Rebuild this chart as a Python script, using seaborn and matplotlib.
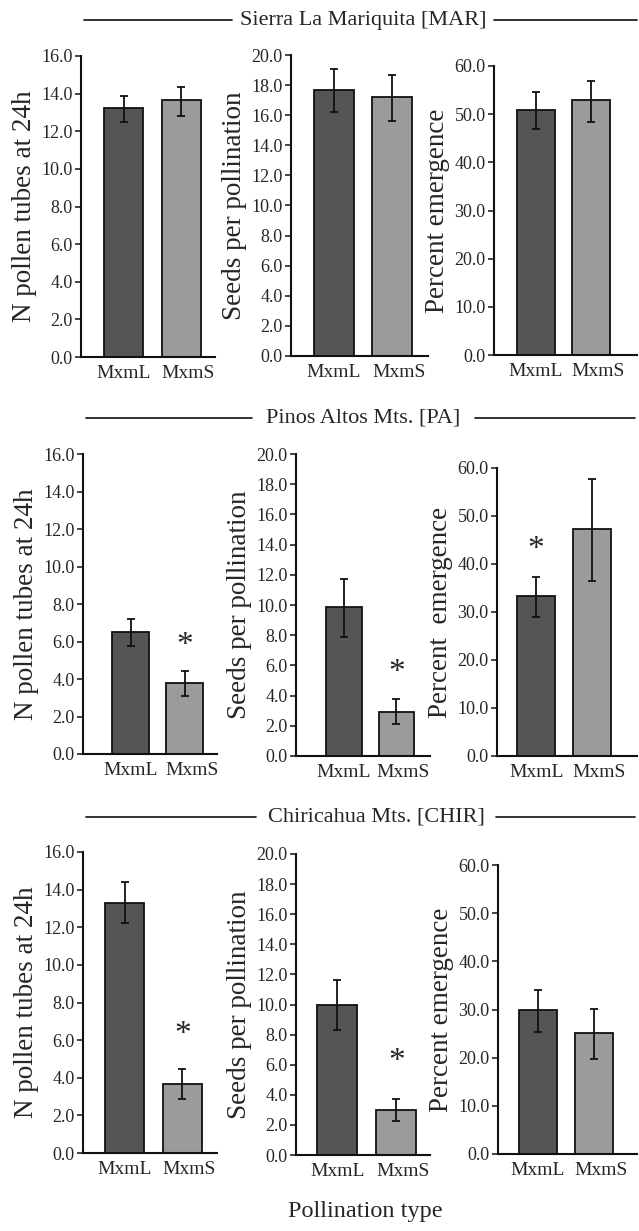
import matplotlib
matplotlib.use("Agg")
import matplotlib.pyplot as plt
from matplotlib.lines import Line2D
from matplotlib.transforms import ScaledTranslation
import numpy as np
import pandas as pd
import seaborn as sns

# categories
pollination = ['MxmL', 'MxmS']
sites = ['Sierra La Mariquita [MAR]', 'Pinos Altos Mts. [PA]', 'Chiricahua Mts. [CHIR]']
ylabels = [['N pollen tubes at 24h', 'Seeds per pollination', 'Percent emergence'],
           ['N pollen tubes at 24h', 'Seeds per pollination', 'Percent  emergence'],
           ['N pollen tubes at 24h', 'Seeds per pollination', 'Percent emergence']]

# rows = sites (MAR, PA, CHIR), values = [MxmL, MxmS]
tubes_mean = [[13.22, 13.65], [6.53, 3.8], [13.3, 3.67]]
tubes_low = [[12.5, 12.82], [5.78, 3.1], [12.2, 2.85]]
tubes_high = [[13.87, 14.37], [7.18, 4.44], [14.38, 4.45]]

seeds_mean = [[17.66, 17.23], [9.9, 2.94], [10.0, 3.0]]
seeds_low = [[16.22, 15.6], [7.9, 2.1], [8.3, 2.24]]
seeds_high = [[19.04, 18.68], [11.74, 3.76], [11.6, 3.75]]

emerg_mean = [[50.9, 52.9], [33.3, 47.2], [29.8, 25.1]]
emerg_low = [[46.9, 48.3], [28.9, 36.4], [25.4, 19.8]]
emerg_high = [[54.5, 56.9], [37.2, 57.8], [34.1, 30.1]]

ymax = [16, 20, 60]
ystep = [2, 2, 10]

# significance stars: (site, measure, bar, y)
stars = [(1, 0, 1, 5.8), (1, 1, 1, 5.5), (1, 2, 0, 43.0),
         (2, 0, 1, 6.3), (2, 1, 1, 6.2)]

W, H = 639, 1231
# axes boxes in pixels: left, top, right, bottom ; and x limits
boxes = [[(81, 56, 215, 357), (291, 55, 428, 356), (494, 66, 637, 355)],
         [(83, 454, 217, 754), (296, 454, 430, 756), (497, 468, 637, 756)],
         [(83, 852, 217, 1153), (296, 854, 430, 1155), (498, 865, 637, 1154)]]
xlims = [[(-0.74, 1.59), (-0.74, 1.62), (-0.75, 1.82)],
         [(-0.88, 1.6), (-0.91, 1.64), (-0.70, 1.80)],
         [(-0.72, 1.6), (-0.70, 1.57), (-0.72, 1.78)]]
# title y, left line, right line
titles = [(20, (84, 232), (494, 637)),
          (418, (86, 252), (475, 635)),
          (817, (86, 256), (496, 635))]

sns.set_style("ticks")
plt.rcParams['font.family'] = ['Liberation Serif', 'DejaVu Serif']

means = [tubes_mean, seeds_mean, emerg_mean]
lows = [tubes_low, seeds_low, emerg_low]
highs = [tubes_high, seeds_high, emerg_high]

fig = plt.figure(figsize=(W / 100, H / 100), dpi=100)

for r in range(3):
    for c in range(3):
        l, t, rr, b = boxes[r][c]
        ax = fig.add_axes([l / W, 1 - b / H, (rr - l) / W, (b - t) / H])
        m = np.array(means[c][r])
        lo = np.array(lows[c][r])
        hi = np.array(highs[c][r])
        df = pd.DataFrame({'type': pollination, 'value': m})
        sns.barplot(data=df, x='type', y='value', hue='type',
                    palette=['#555555', '#9b9b9b'], saturation=1,
                    width=0.68, edgecolor='#111111', linewidth=1.3,
                    errorbar=None, legend=False, ax=ax)
        ax.errorbar(range(len(pollination)), m, yerr=[m - lo, hi - m],
                    fmt='none', ecolor='#111111', elinewidth=1.3,
                    capsize=3.2, capthick=1.3)
        ax.set_xlim(*xlims[r][c])
        ax.set_ylim(0, ymax[c])
        ax.set_yticks(np.arange(0, ymax[c] + 0.1, ystep[c]))
        ax.set_yticklabels(['%.1f' % v for v in np.arange(0, ymax[c] + 0.1, ystep[c])])
        ax.set_xlabel('')
        ax.set_ylabel(ylabels[r][c], fontsize=19.5, labelpad=3)
        ax.tick_params(axis='y', length=4, width=1.2, labelsize=13, pad=2)
        ax.tick_params(axis='x', length=0, labelsize=14, pad=6)
        # the second label sits a bit to the right in the original
        lab = ax.get_xticklabels()[1]
        lab.set_transform(lab.get_transform() + ScaledTranslation(7 / 100, 0, fig.dpi_scale_trans))
        sns.despine(ax=ax)
        for s in ['left', 'bottom']:
            ax.spines[s].set_linewidth(1.5)
            ax.spines[s].set_color('#111111')
        for site, meas, bar, yv in stars:
            if site == r and meas == c:
                ax.text(bar, yv, '*', ha='center', va='center', fontsize=24)

for i, (ty, (a1, a2), (b1, b2)) in enumerate(titles):
    yy = 1 - ty / H
    fig.text(((a2 + b1) / 2) / W, yy, sites[i], ha='center', va='center', fontsize=16)
    fig.add_artist(Line2D([a1 / W, a2 / W], [yy, yy], color='#111111', lw=1.2))
    fig.add_artist(Line2D([b1 / W, b2 / W], [yy, yy], color='#111111', lw=1.2))

fig.text(365 / W, 1 - 1212 / H, 'Pollination type', ha='center', va='center', fontsize=17.5)

fig.savefig('out.png', dpi=100)
